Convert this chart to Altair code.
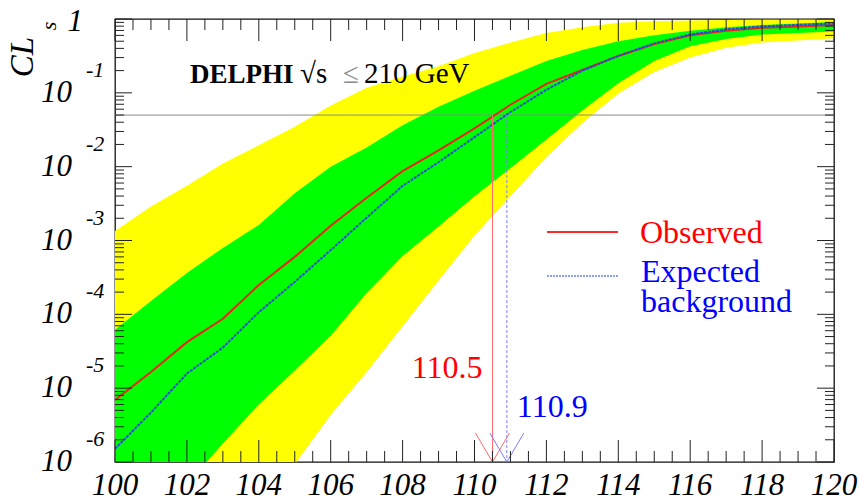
import altair as alt
import pandas as pd

# Higgs mass hypothesis (GeV) and CLs curves / expectation bands
mass = list(range(100, 121))
cls_observed = [6.9e-6, 1.66e-5, 4.2e-5, 8.7e-5, 2.5e-4, 6.0e-4, 1.58e-3, 3.8e-3, 8.7e-3, 1.66e-2,
                3.3e-2, 6.9e-2, 0.132, 0.204, 0.316, 0.457, 0.603, 0.692, 0.759, 0.794, 0.832]
cls_expected = [1.51e-6, 4.68e-6, 1.58e-5, 3.55e-5, 1.07e-4, 2.75e-4, 7.41e-4, 2.04e-3, 5.5e-3, 1.15e-2,
                2.51e-2, 5.5e-2, 0.110, 0.200, 0.316, 0.468, 0.617, 0.724, 0.794, 0.832, 0.871]
cls_plus2 = [1.35e-3, 2.88e-3, 5.5e-3, 1.10e-2, 1.95e-2, 3.47e-2, 6.76e-2, 0.117, 0.166, 0.229,
             0.347, 0.479, 0.646, 0.776, 0.891, 0.933, 0.955, 0.966, 0.977, 0.977, 0.977]
cls_plus1 = [6.17e-5, 1.51e-4, 3.63e-4, 7.94e-4, 1.62e-3, 4.37e-3, 1.0e-2, 1.82e-2, 3.63e-2, 6.46e-2,
             0.107, 0.170, 0.269, 0.380, 0.501, 0.603, 0.692, 0.776, 0.832, 0.871, 0.912]
cls_minus1 = [4.0e-8, 1.4e-7, 5.0e-7, 1.78e-6, 6.03e-6, 1.74e-5, 5.13e-5, 1.95e-4, 6.17e-4, 1.55e-3,
              3.98e-3, 9.55e-3, 2.34e-2, 5.75e-2, 0.135, 0.269, 0.427, 0.537, 0.617, 0.646, 0.676]
cls_minus2 = [1.0e-9, 4.0e-9, 1.6e-8, 6.3e-8, 2.5e-7, 9.3e-7, 4.37e-6, 1.66e-5, 6.92e-5, 2.88e-4,
              1.17e-3, 3.98e-3, 1.35e-2, 3.89e-2, 9.77e-2, 0.191, 0.302, 0.407, 0.479, 0.513, 0.550]

cl_level = 0.05
limit_observed = 110.5
limit_expected = 110.9

x_tick_labels = [100, 102, 104, 106, 108, 110, 112, 114, 116, 118, 120]
y_decades = [-6, -5, -4, -3, -2, -1]

W, H = 719, 443
SERIF = "Times New Roman, Liberation Serif, serif"

xs = alt.Scale(domain=[100, 120], nice=False, zero=False)
ys = alt.Scale(type="log", domain=[1e-6, 1], nice=False)


def X(field, **kw):
    return alt.X(field, type="quantitative", scale=xs, axis=None, **kw)


def Y(field, **kw):
    return alt.Y(field, type="quantitative", scale=ys, axis=None, **kw)


curves = pd.DataFrame({
    "m": mass, "obs": cls_observed, "exp": cls_expected,
    "p2": cls_plus2, "p1": cls_plus1, "m1": cls_minus1, "m2": cls_minus2,
})

band2 = alt.Chart(curves).mark_area(color="#ffff00", clip=True).encode(
    x=X("m"), y=Y("p2"), y2="m2")
band1 = alt.Chart(curves).mark_area(color="#00ff00", clip=True).encode(
    x=X("m"), y=Y("p1"), y2="m1")

level = alt.Chart(pd.DataFrame({"v": [cl_level]})).mark_rule(
    color="#8a8a8a", strokeWidth=1).encode(y=Y("v"))

obs_line = alt.Chart(curves).mark_line(color="#e8261c", strokeWidth=2, clip=True).encode(
    x=X("m"), y=Y("obs"))
exp_line = alt.Chart(curves).mark_line(color="#1f4fd0", strokeWidth=2, strokeDash=[3, 1],
                                       clip=True).encode(x=X("m"), y=Y("exp"))

# vertical arrows dropping from the CLs = 0.05 line to the limits
arrows = pd.DataFrame({
    "m": [limit_observed, limit_expected],
    "top": [cl_level, cl_level],
    "bot": [1e-6, 1e-6],
    "lab": ["110.5", "110.9"],
})
obs_arrow = alt.Chart(arrows.iloc[[0]]).mark_rule(color="#ff6a6a", strokeWidth=1).encode(
    x=X("m"), y=Y("top"), y2="bot")
exp_arrow = alt.Chart(arrows.iloc[[1]]).mark_rule(color="#7a7aff", strokeWidth=1,
                                                 strokeDash=[3, 2]).encode(
    x=X("m"), y=Y("top"), y2="bot")


def head(row, color, side):
    return alt.Chart(arrows.iloc[[row]]).mark_rule(
        color=color, strokeWidth=1, xOffset=side * 17).encode(
        x=X("m"), x2="m", y=alt.value(H - 29), y2=alt.value(H))


heads = [head(0, "#ff6a6a", -1), head(0, "#ff6a6a", 1),
         head(1, "#7a7aff", -1), head(1, "#7a7aff", 1)]

obs_lab = alt.Chart(arrows.iloc[[0]]).mark_text(
    font=SERIF, fontSize=32, color="#ff0000", align="right", baseline="alphabetic", dx=-10
).encode(x=X("m"), y=alt.value(359), text="lab")
exp_lab = alt.Chart(arrows.iloc[[1]]).mark_text(
    font=SERIF, fontSize=32, color="#0000ff", align="left", baseline="alphabetic", dx=10
).encode(x=X("m"), y=alt.value(398), text="lab")

# legend
leg_font = dict(font=SERIF, fontSize=32, align="left", baseline="alphabetic")
leg_obs = alt.Chart().mark_rule(color="#ff2a2a", strokeWidth=2).encode(
    x=alt.value(432), x2=alt.value(503), y=alt.value(213))
leg_exp = alt.Chart().mark_rule(color="#1f3fe0", strokeWidth=1, strokeDash=[2, 1]).encode(
    x=alt.value(432), x2=alt.value(503), y=alt.value(257))
leg_t1 = alt.Chart().mark_text(color="#ff0000", **leg_font).encode(
    x=alt.value(525), y=alt.value(224), text=alt.value("Observed"))
leg_t2 = alt.Chart().mark_text(color="#0000ff", lineHeight=30, **leg_font).encode(
    x=alt.value(526), y=alt.value(263), text=alt.value(["Expected", "background"]))

# experiment label
title_a = alt.Chart().mark_text(font=SERIF, fontSize=27, fontWeight="bold", color="black",
                                align="left", baseline="alphabetic").encode(
    x=alt.value(75), y=alt.value(64), text=alt.value("DELPHI"))
title_b = alt.Chart().mark_text(font=SERIF, fontSize=29, color="black",
                                align="left", baseline="alphabetic").encode(
    x=alt.value(185), y=alt.value(64), text=alt.value("√s"))
title_c = alt.Chart().mark_text(font=SERIF, fontSize=29, color="#8a8a8a",
                                align="left", baseline="alphabetic").encode(
    x=alt.value(228), y=alt.value(64), text=alt.value("≤"))
title_d = alt.Chart().mark_text(font=SERIF, fontSize=29, color="black",
                                align="left", baseline="alphabetic").encode(
    x=alt.value(249), y=alt.value(64), text=alt.value("210 GeV"))

# ticks on all four sides
x_major = pd.DataFrame({"m": [v for v in x_tick_labels]})
x_minor = pd.DataFrame({"m": [100 + 0.5 * i for i in range(41) if i % 4 != 0]})
y_major = pd.DataFrame({"v": [10.0 ** e for e in y_decades + [0]]})
y_minor = pd.DataFrame({"v": [k * 10.0 ** e for e in y_decades for k in range(2, 10)]})

tick_style = dict(color="#222222", strokeWidth=1)
ticks = [
    alt.Chart(x_major).mark_rule(**tick_style).encode(x=X("m"), y=alt.value(H), y2=alt.value(H - 22)),
    alt.Chart(x_minor).mark_rule(**tick_style).encode(x=X("m"), y=alt.value(H), y2=alt.value(H - 11)),
    alt.Chart(x_major).mark_rule(**tick_style).encode(x=X("m"), y=alt.value(0), y2=alt.value(22)),
    alt.Chart(x_minor).mark_rule(**tick_style).encode(x=X("m"), y=alt.value(0), y2=alt.value(11)),
    alt.Chart(y_major).mark_rule(**tick_style).encode(y=Y("v"), x=alt.value(0), x2=alt.value(17)),
    alt.Chart(y_minor).mark_rule(**tick_style).encode(y=Y("v"), x=alt.value(0), x2=alt.value(9)),
    alt.Chart(y_major).mark_rule(**tick_style).encode(y=Y("v"), x=alt.value(W), x2=alt.value(W - 17)),
    alt.Chart(y_minor).mark_rule(**tick_style).encode(y=Y("v"), x=alt.value(W), x2=alt.value(W - 9)),
]

# axis labels
x_labels = alt.Chart(pd.DataFrame({"m": x_tick_labels, "t": [str(v) for v in x_tick_labels]})).mark_text(
    font=SERIF, fontSize=31, fontStyle="italic", color="black", baseline="middle"
).encode(x=X("m"), y=alt.value(H + 24), text="t")

ydf = pd.DataFrame({"v": [10.0 ** e for e in y_decades], "e": [str(e) for e in y_decades]})
y_tens = alt.Chart(ydf).mark_text(
    font=SERIF, fontSize=31, fontStyle="italic", color="black", align="right", baseline="middle"
).encode(x=alt.value(-43), y=Y("v"), text=alt.value("10"))
y_exps = alt.Chart(ydf).mark_text(
    font=SERIF, fontSize=22, fontStyle="italic", color="black", align="left", baseline="middle", dy=-23
).encode(x=alt.value(-29), y=Y("v"), text="e")
y_one = alt.Chart(pd.DataFrame({"v": [1.0]})).mark_text(
    font=SERIF, fontSize=31, fontStyle="italic", color="black", align="right", baseline="middle", dy=3
).encode(x=alt.value(-32), y=Y("v"), text=alt.value("1"))

y_title = alt.Chart().mark_text(font=SERIF, fontSize=33, fontStyle="italic", color="black",
                                angle=270, baseline="middle", align="center").encode(
    x=alt.value(-92), y=alt.value(38), text=alt.value("CL"))
y_title_s = alt.Chart().mark_text(font=SERIF, fontSize=22, fontStyle="italic", color="black",
                                  angle=270, baseline="middle", align="center").encode(
    x=alt.value(-66), y=alt.value(7), text=alt.value("s"))

chart = alt.layer(
    band2, band1, level, obs_line, exp_line, obs_arrow, exp_arrow, *heads,
    obs_lab, exp_lab, leg_obs, leg_exp, leg_t1, leg_t2,
    title_a, title_b, title_c, title_d, *ticks,
    x_labels, y_tens, y_exps, y_one, y_title, y_title_s,
).properties(
    width=W, height=H,
    padding={"left": 115, "top": 19, "right": 26, "bottom": 39},
    autosize=alt.AutoSizeParams(type="none"),
    background="white",
).configure_view(stroke="#111111", strokeWidth=1.3)

chart.save("out.html", embed_options={"renderer": "svg", "actions": False})
